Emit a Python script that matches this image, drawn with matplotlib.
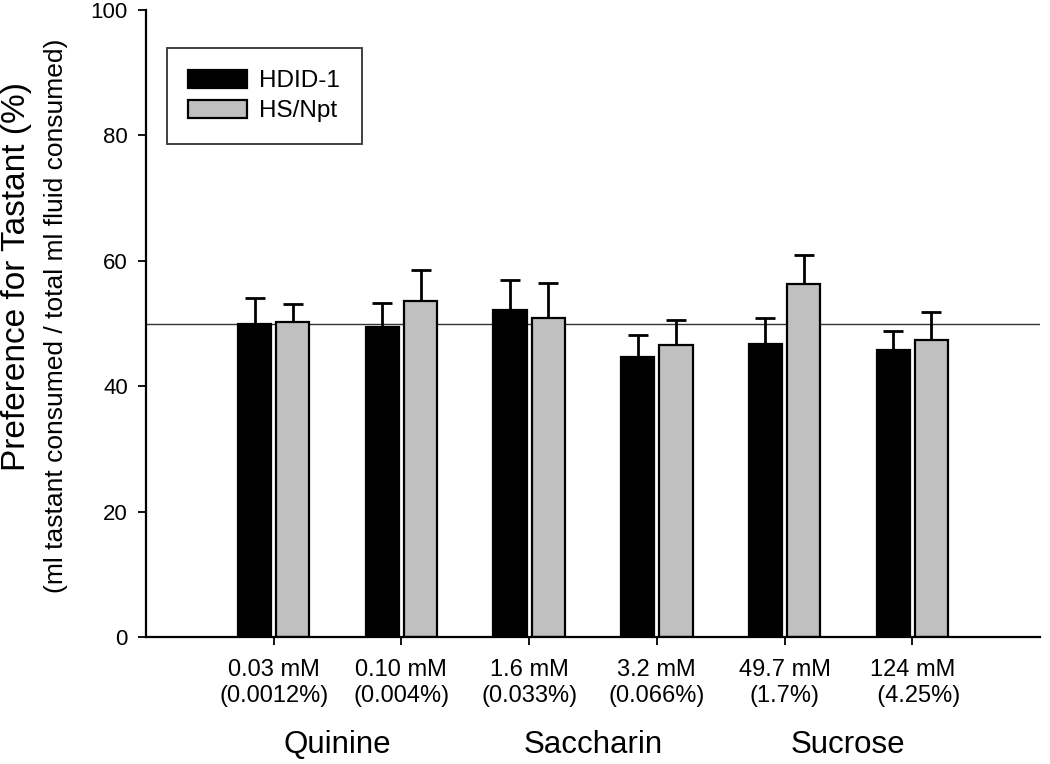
import matplotlib
matplotlib.use("Agg")
import matplotlib.pyplot as plt
import numpy as np

plt.rcParams['font.family'] = ['Liberation Sans', 'DejaVu Sans']

# concentration labels and group names
conc = ["0.03 mM\n(0.0012%)", "0.10 mM\n(0.004%)", "1.6 mM\n(0.033%)",
        "3.2 mM\n(0.066%)", "49.7 mM\n(1.7%)", "124 mM\n  (4.25%)"]
groups = ["Quinine", "Saccharin", "Sucrose"]

# preference values (%) and SEM
hdid = [50.0, 49.5, 52.2, 44.6, 46.8, 45.8]
hdid_err = [4.0, 3.8, 4.7, 3.5, 4.0, 3.0]
hsnpt = [50.3, 53.6, 50.8, 46.6, 56.3, 47.4]
hsnpt_err = [2.8, 5.0, 5.6, 4.0, 4.6, 4.4]

x = np.arange(1, len(conc) + 1)
w = 0.26
off = 0.15

fig = plt.figure(figsize=(10.5, 7.64), dpi=100)
ax = fig.add_axes([0.139, 0.1662, 0.8515, 0.8207])

ax.axhline(50, color="#333333", lw=1.0, zorder=1)

ax.bar(x - off, hdid, w, color="black", edgecolor="black", lw=1.6, zorder=2,
       label="HDID-1")
ax.bar(x + off, hsnpt, w, color="#c0c0c0", edgecolor="black", lw=1.6, zorder=2,
       label="HS/Npt")
ax.errorbar(x - off, hdid, yerr=[np.zeros(6), hdid_err], fmt="none",
            ecolor="black", elinewidth=2.0, capsize=7, capthick=2.0, zorder=1.5)
ax.errorbar(x + off, hsnpt, yerr=[np.zeros(6), hsnpt_err], fmt="none",
            ecolor="black", elinewidth=2.0, capsize=7, capthick=2.0, zorder=1.5)

ax.set_xlim(0, 7)
ax.set_ylim(0, 100)
ax.set_xticks(x)
ax.set_xticklabels(conc, fontsize=17)
ax.set_yticks([0, 20, 40, 60, 80, 100])
ax.tick_params(axis="y", labelsize=16, length=6, width=1.3, pad=7)
ax.tick_params(axis="x", length=6, width=1.3, pad=10)

for s in ["top", "right"]:
    ax.spines[s].set_visible(False)
for s in ["left", "bottom"]:
    ax.spines[s].set_linewidth(1.6)

for i, g in enumerate(groups):
    ax.text(1.5 + 2 * i, -17.2, g, fontsize=22.5, ha="center", va="center",
            transform=ax.transData, clip_on=False)

fig.text(17 / 1050, 1 - 277 / 764, "Preference for Tastant (%)", rotation=90,
         fontsize=24, ha="center", va="center")
fig.text(56 / 1050, 1 - 316 / 764,
         "(ml tastant consumed / total ml fluid consumed)", rotation=90,
         fontsize=19, ha="center", va="center")

leg = ax.legend(loc="upper left", bbox_to_anchor=(0.023, 0.94), fontsize=17.5,
                frameon=True, fancybox=False, edgecolor="black",
                handlelength=2.4, handleheight=0.8, handletextpad=0.5,
                labelspacing=0.3, borderpad=0.9, borderaxespad=0)
leg.get_frame().set_linewidth(1.3)

fig.savefig("out.png", dpi=100)
